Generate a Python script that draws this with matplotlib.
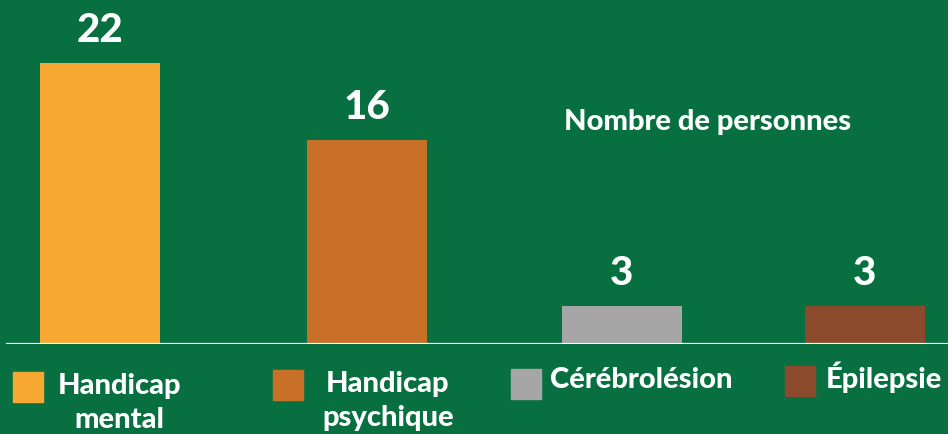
import matplotlib.pyplot as plt
from matplotlib.patches import Rectangle

# Data
categories = ['Handicap\nmental', 'Handicap\npsychique', 'Cérébrolésion', 'Épilepsie']
values = [22, 16, 3, 3]
colors = ['#F7A833', '#C87028', '#A6A6A6', '#8B4A2B']
bg = '#087040'

plt.rcParams['font.family'] = ['Lato', 'DejaVu Sans']
FW = 'black'

fig = plt.figure(figsize=(9.48, 4.34), dpi=100, facecolor=bg)
ax = fig.add_axes([0, 1 - 344 / 434, 1, 344 / 434])
ax.set_facecolor(bg)

# bar centres as on the slide (not evenly spaced)
xpos = [0, 1.047, 2.047, 3.0]
bars = ax.bar(xpos, values, width=0.47, color=colors, zorder=2)
ax.set_xlim(-100 / 255, 848 / 255)
ax.set_ylim(0, 26.94)

for rect, v in zip(bars, values):
    ax.annotate(str(v), (rect.get_x() + rect.get_width() / 2, v),
                xytext=(0, 10), textcoords='offset points',
                ha='center', va='bottom', color='white',
                fontsize=29, fontweight=FW)

ax.axhline(0, xmin=7 / 948, xmax=1, color='white', lw=2.3, zorder=3)
for s in ax.spines.values():
    s.set_visible(False)
ax.set_xticks([])
ax.set_yticks([])

ax.text(0.746, 0.645, 'Nombre de personnes', transform=ax.transAxes,
        ha='center', va='center', color='white', fontsize=21, fontweight=FW)

# Legend drawn by hand (items are offset like in the original slide)
W, H = 948, 434
sq = [(13, 372), (273, 370), (511, 369), (785, 366)]
txt = [(119, 403), (388, 401), (641, 380), (884, 377)]
for (sx, sy), (tx, ty), lab, c in zip(sq, txt, categories, colors):
    fig.patches.append(Rectangle((sx / W, 1 - (sy + 30) / H), 30 / W, 30 / H,
                                 transform=fig.transFigure, color=c))
    fig.text(tx / W, 1 - ty / H, lab, ha='center', va='center',
             color='white', fontsize=21, fontweight=FW, linespacing=1.35)

fig.savefig('out.png', dpi=100, facecolor=bg)
